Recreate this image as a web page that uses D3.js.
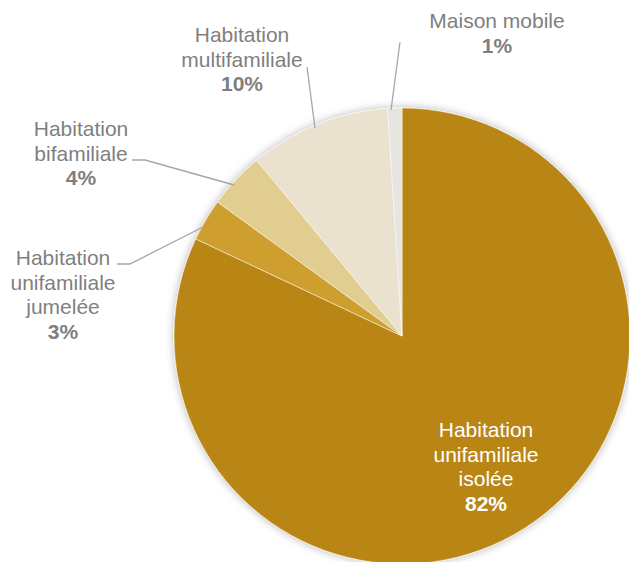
<!DOCTYPE html>
<html>
<head>
<meta charset="utf-8">
<script src="https://cdn.jsdelivr.net/npm/d3@7"></script>
<style>
  html, body { margin: 0; padding: 0; background: #fff; }
  svg { display: block; }
</style>
</head>
<body>
<svg id="chart" width="629" height="562"></svg>
<script>
// Types de logement (ordre horaire depuis midi)
const categories = [
  ["Habitation", "unifamiliale", "isolée"],
  ["Habitation", "unifamiliale", "jumelée"],
  ["Habitation", "bifamiliale"],
  ["Habitation", "multifamiliale"],
  ["Maison mobile"]
];
const values = [82, 3, 4, 10, 1];
const valueLabels = ["82%", "3%", "4%", "10%", "1%"];
const colors = ["#B98613", "#CE9F2E", "#E0CD8F", "#EAE1CF", "#E7E5E0"];

const svg = d3.select("#chart");
const cx = 402, cy = 336, r = 228;

const defs = svg.append("defs");
const f = defs.append("filter").attr("id", "shadow")
  .attr("x", "-10%").attr("y", "-10%").attr("width", "120%").attr("height", "120%");
f.append("feDropShadow").attr("dx", 0).attr("dy", 0)
  .attr("stdDeviation", 4).attr("flood-color", "#000").attr("flood-opacity", 0.3);

const pie = d3.pie().sort(null).value(d => d)(values);
const arc = d3.arc().innerRadius(0).outerRadius(r);

const g = svg.append("g").attr("transform", `translate(${cx},${cy})`);
g.append("g").attr("filter", "url(#shadow)")
  .selectAll("path").data(pie).join("path")
  .attr("d", arc)
  .attr("fill", (d, i) => colors[i])
  .attr("stroke", "#fff")
  .attr("stroke-width", 0.5);

// Étiquettes : position du centre du texte et ligne de repère
const labelPos = [
  { x: 486, y: 437, color: "#fff" },
  { x: 63, y: 265, color: "#7F7F7F", leader: [[117, 264], [130, 264], [203, 227]] },
  { x: 81, y: 136, color: "#7F7F7F", leader: [[132, 160], [145, 160], [234, 185]] },
  { x: 242, y: 42, color: "#7F7F7F", leader: [[307, 67], [315, 128]] },
  { x: 497, y: 28, color: "#7F7F7F", leader: [[400, 42], [391, 110]] }
];

const lineH = 24.5;
const line = d3.line();
labelPos.forEach((p, i) => {
  if (p.leader) {
    svg.append("path").attr("d", line(p.leader))
      .attr("fill", "none").attr("stroke", "#A6A6A6").attr("stroke-width", 1.3);
  }
  const t = svg.append("text")
    .attr("text-anchor", "middle")
    .attr("font-family", "'Liberation Sans', Arial, sans-serif")
    .attr("font-size", 21)
    .attr("fill", p.color);
  categories[i].forEach((s, k) => {
    t.append("tspan").attr("x", p.x).attr("y", p.y + k * lineH).text(s);
  });
  t.append("tspan").attr("x", p.x).attr("y", p.y + categories[i].length * lineH)
    .attr("font-weight", "bold").text(valueLabels[i]);
});
</script>
</body>
</html>
